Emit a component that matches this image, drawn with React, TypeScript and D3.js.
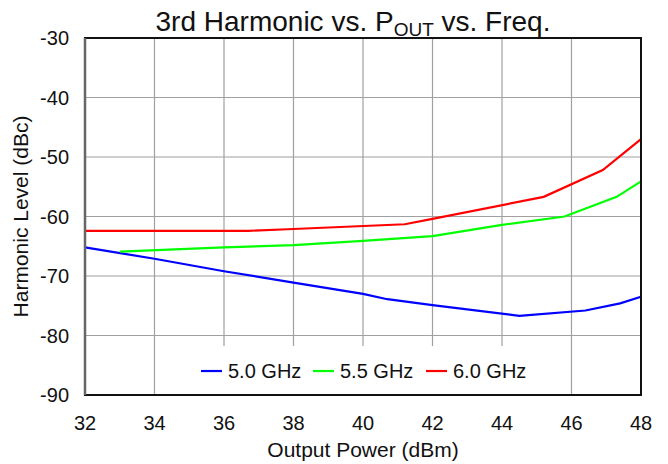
import { useRef, useEffect } from 'react';
import * as d3 from 'd3';

type Pt = [number, number];

const xTicks = [32, 34, 36, 38, 40, 42, 44, 46, 48];
const yTicks = [-90, -80, -70, -60, -50, -40, -30];

const seriesNames = ['5.0 GHz', '5.5 GHz', '6.0 GHz'];
const seriesColors = ['#0000ff', '#00ff00', '#ff0000'];

const harm50: Pt[] = [
  [32, -65.2], [34, -67.1], [36, -69.2], [38, -71.1], [40, -73.0],
  [40.7, -73.9], [42, -74.9], [44.5, -76.7], [46.4, -75.8], [47.4, -74.6], [48, -73.5],
];
const harm55: Pt[] = [
  [33, -65.9], [36, -65.2], [38, -64.8], [40, -64.1], [42, -63.3],
  [44, -61.4], [45.8, -60.0], [47.3, -56.7], [48, -54.1],
];
const harm60: Pt[] = [
  [32, -62.4], [36.7, -62.4], [38, -62.1], [41.2, -61.3], [42, -60.4],
  [45.2, -56.7], [46.9, -52.2], [48, -47.0],
];

const allSeries = [harm50, harm55, harm60];

const W = 668;
const H = 464;
const margin = { top: 38, right: 27, bottom: 69, left: 85 };

const App = () => {
  const svgRef = useRef(null);

  useEffect(() => {
    const svg = d3.select(svgRef.current);
    svg.selectAll('*').remove();

    const innerW = W - margin.left - margin.right;
    const innerH = H - margin.top - margin.bottom;
    const font = "'Liberation Sans', Arial, sans-serif";

    const x = d3.scaleLinear().domain([32, 48]).range([0, innerW]);
    const y = d3.scaleLinear().domain([-90, -30]).range([innerH, 0]);

    const g = svg
      .append('g')
      .attr('transform', `translate(${margin.left}, ${margin.top})`);

    // grid
    g.selectAll('line.vg')
      .data(xTicks)
      .join('line')
      .attr('x1', (d) => x(d))
      .attr('x2', (d) => x(d))
      .attr('y1', 0)
      .attr('y2', innerH)
      .attr('stroke', '#a0a0a0')
      .attr('stroke-width', 1.2);

    g.selectAll('line.hg')
      .data(yTicks)
      .join('line')
      .attr('x1', 0)
      .attr('x2', innerW)
      .attr('y1', (d) => y(d))
      .attr('y2', (d) => y(d))
      .attr('stroke', '#a0a0a0')
      .attr('stroke-width', 1.2);

    // lines
    const line = d3
      .line<Pt>()
      .x((d) => x(d[0]))
      .y((d) => y(d[1]));

    allSeries.forEach((s, i) => {
      g.append('path')
        .datum(s)
        .attr('fill', 'none')
        .attr('stroke', seriesColors[i])
        .attr('stroke-width', 2.2)
        .attr('d', line);
    });

    // legend
    const lg = g.append('g').attr('transform', `translate(${x(32) + 104}, ${y(-81.6) + 1})`);
    lg.append('rect')
      .attr('x', 0)
      .attr('y', 0)
      .attr('width', 352)
      .attr('height', 50)
      .attr('fill', 'white');
    const itemX = [12, 124, 237];
    seriesNames.forEach((name, i) => {
      lg.append('line')
        .attr('x1', itemX[i])
        .attr('x2', itemX[i] + 21)
        .attr('y1', 25)
        .attr('y2', 25)
        .attr('stroke', seriesColors[i])
        .attr('stroke-width', 2.2);
      lg.append('text')
        .attr('x', itemX[i] + 27)
        .attr('y', 32)
        .attr('font-family', font)
        .attr('font-size', 20)
        .attr('fill', '#111')
        .text(name);
    });

    // frame
    g.append('rect')
      .attr('x', 0)
      .attr('y', 0)
      .attr('width', innerW)
      .attr('height', innerH)
      .attr('fill', 'none')
      .attr('stroke', '#111')
      .attr('stroke-width', 2);
    g.append('line')
      .attr('x1', 0)
      .attr('x2', 0)
      .attr('y1', 0)
      .attr('y2', innerH)
      .attr('stroke', '#666')
      .attr('stroke-width', 2.5);

    // tick labels
    g.selectAll('text.xt')
      .data(xTicks)
      .join('text')
      .attr('x', (d) => x(d))
      .attr('y', innerH + 35)
      .attr('text-anchor', 'middle')
      .attr('font-family', font)
      .attr('font-size', 20)
      .attr('fill', '#111')
      .text((d) => d);

    g.selectAll('text.yt')
      .data(yTicks)
      .join('text')
      .attr('x', -16)
      .attr('y', (d) => y(d) + 7)
      .attr('text-anchor', 'end')
      .attr('font-family', font)
      .attr('font-size', 20)
      .attr('fill', '#111')
      .text((d) => d);

    // axis titles
    g.append('text')
      .attr('x', innerW / 2)
      .attr('y', innerH + 62)
      .attr('text-anchor', 'middle')
      .attr('font-family', font)
      .attr('font-size', 21)
      .attr('fill', '#111')
      .text('Output Power (dBm)');

    g.append('text')
      .attr('transform', `translate(${-57}, ${innerH / 2}) rotate(-90)`)
      .attr('text-anchor', 'middle')
      .attr('font-family', font)
      .attr('font-size', 21)
      .attr('fill', '#111')
      .text('Harmonic Level (dBc)');

    // title
    const t = svg
      .append('text')
      .attr('x', 353)
      .attr('y', 31)
      .attr('text-anchor', 'middle')
      .attr('font-family', font)
      .attr('font-size', 28)
      .attr('fill', '#111');
    t.append('tspan').text('3rd Harmonic vs. P');
    t.append('tspan').attr('font-size', 19).attr('dy', 5).text('OUT');
    t.append('tspan').attr('dy', -5).text(' vs. Freq.');
  }, []);

  return (
    <svg
      ref={svgRef}
      width={W}
      height={H}
      style={{ position: 'absolute', left: 0, top: 0, background: 'white' }}
    />
  );
};

export default App;
